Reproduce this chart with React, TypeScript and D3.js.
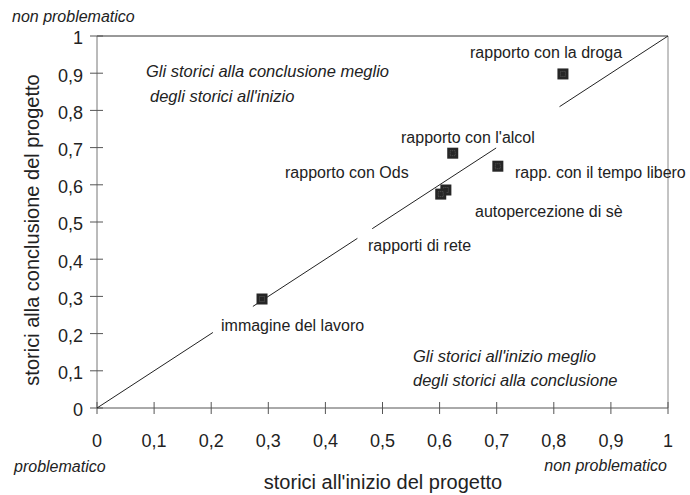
import React from "react";
import * as d3 from "d3";

const ticks = [0, 0.1, 0.2, 0.3, 0.4, 0.5, 0.6, 0.7, 0.8, 0.9, 1];
const pointNames = [
  "rapporto con la droga",
  "rapporto con l'alcol",
  "rapp. con il tempo libero",
  "autopercezione di sè",
  "rapporti di rete",
  "immagine del lavoro",
];
const xValues = [0.816, 0.623, 0.702, 0.611, 0.602, 0.289];
const yValues = [0.898, 0.685, 0.65, 0.586, 0.575, 0.293];
// extra label without its own marker
const odsLabel = "rapporto con Ods";
// visible pieces of the diagonal (x ranges)
const diagonalPieces: [number, number][] = [
  [0, 0.203],
  [0.273, 0.456],
  [0.482, 0.699],
  [0.81, 1],
];

// label placement (layout only): [x px, y px]
const labelPos: [number, number][] = [
  [470, 58],
  [401, 143],
  [515, 178],
  [475, 217],
  [368, 251],
  [221, 331],
];

const W = 690;
const H = 495;
const left = 97;
const right = 668;
const top = 36;
const bottom = 408;
const font = "'Liberation Sans', Arial, Helvetica, sans-serif";

export default function App() {
  const x = d3.scaleLinear().domain([0, 1]).range([left, right]);
  const y = d3.scaleLinear().domain([0, 1]).range([bottom, top]);
  const fmt = (v: number) => (v === 0 ? "0" : v === 1 ? "1" : String(v).replace(".", ","));
  const ms = 11;
  return (
    <svg width={W} height={H} style={{ position: "absolute", left: 0, top: 0, background: "#fff" }} fontFamily={font}>
      {/* frame */}
      <line x1={x(0)} x2={x(1)} y1={y(1)} y2={y(1)} stroke="#333" strokeWidth={1} />
      <line x1={x(1)} x2={x(1)} y1={y(1)} y2={y(0)} stroke="#888" strokeWidth={1} />
      <line x1={x(0)} x2={x(0)} y1={y(1)} y2={y(0)} stroke="#777" strokeWidth={1} />
      <line x1={x(0)} x2={x(1)} y1={y(0)} y2={y(0)} stroke="#555" strokeWidth={1} />
      {ticks.map((t) => (
        <g key={"y" + t}>
          <line x1={x(0) - 7} x2={x(0) + 6} y1={y(t)} y2={y(t)} stroke="#555" />
          <text x={83} y={y(t) + 2} dy="0.36em" textAnchor="end" fontSize={18} fill="#222">
            {fmt(t)}
          </text>
        </g>
      ))}
      {ticks.map((t) => (
        <g key={"x" + t}>
          <line x1={x(t)} x2={x(t)} y1={y(0) - 6} y2={y(0) + 6} stroke="#555" />
          <text x={x(t)} y={447} textAnchor="middle" fontSize={18} fill="#222">
            {fmt(t)}
          </text>
        </g>
      ))}
      {/* diagonal */}
      {diagonalPieces.map(([a, b], i) => (
        <line key={"d" + i} x1={x(a)} y1={y(a)} x2={x(b)} y2={y(b)} stroke="#222" strokeWidth={1} />
      ))}
      {/* markers */}
      {xValues.map((v, i) => (
        <g key={"m" + i}>
          <rect x={x(v) - ms / 2} y={y(yValues[i]) - ms / 2} width={ms} height={ms} fill="#262626" />
          <rect x={x(v) - 2.5} y={y(yValues[i]) - 2.5} width={5} height={5} fill="none" stroke="#777" strokeWidth={0.6} strokeDasharray="1,1" />
        </g>
      ))}
      {pointNames.map((n, i) => (
        <text key={"l" + i} x={labelPos[i][0]} y={labelPos[i][1]} fontSize={16} fill="#222">
          {n}
        </text>
      ))}
      <text x={285} y={178} fontSize={16} fill="#222">{odsLabel}</text>
      {/* region annotations */}
      <g fontStyle="italic" fontSize={16.5} fill="#222">
        <text x={146} y={77}>Gli storici alla conclusione meglio</text>
        <text x={150} y={102}>degli storici all'inizio</text>
        <text x={413} y={362}>Gli storici all'inizio meglio</text>
        <text x={413} y={386}>degli storici alla conclusione</text>
      </g>
      <g fontStyle="italic" fontSize={16} fill="#222">
        <text x={12} y={22}>non problematico</text>
        <text x={14} y={472}>problematico</text>
        <text x={667} y={471} textAnchor="end">non problematico</text>
      </g>
      <text x={383} y={489} textAnchor="middle" fontSize={20} fill="#222">
        storici all'inizio del progetto
      </text>
      <text transform={`translate(39,${(top + bottom) / 2 + 8}) rotate(-90)`} textAnchor="middle" fontSize={20} fill="#222">
        storici alla conclusione del progetto
      </text>
    </svg>
  );
}
